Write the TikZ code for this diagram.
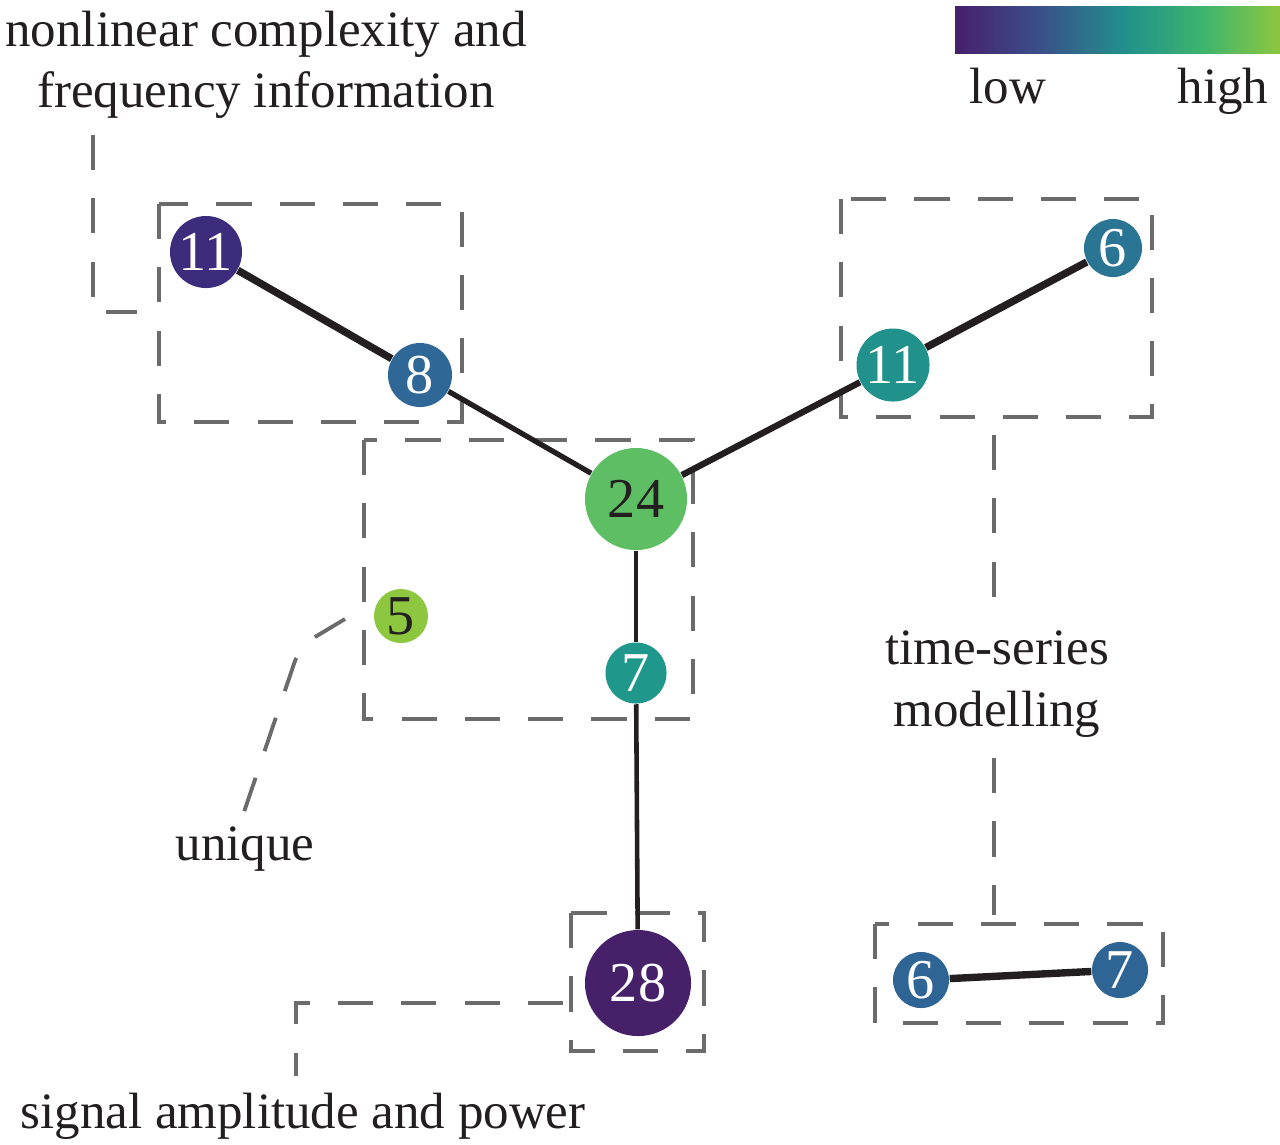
\documentclass[tikz,border=0pt]{standalone}
\usepackage{fontspec}
\setmainfont{Liberation Serif}
\usepackage{tikz}
\usetikzlibrary{calc,positioning}
\definecolor{ink}{HTML}{231F20}
\definecolor{dashgray}{HTML}{6B6B6B}
\definecolor{vir0}{HTML}{46206C}
\definecolor{vir1}{HTML}{3B4F8A}
\definecolor{vir2}{HTML}{21908C}
\definecolor{vir3}{HTML}{3DB46E}
\definecolor{vir4}{HTML}{8DC63F}
\definecolor{cA}{HTML}{3D2B7C}
\definecolor{cB}{HTML}{2F6896}
\definecolor{cC}{HTML}{5EBE64}
\definecolor{cD}{HTML}{21918C}
\definecolor{cE}{HTML}{2A7594}
\definecolor{cF}{HTML}{8DC63F}
\definecolor{cG}{HTML}{1F988B}
\definecolor{cH}{HTML}{46216A}
\definecolor{cI}{HTML}{2F6594}
\pgfdeclarehorizontalshading{viridisbar}{100bp}{color(0bp)=(vir0); color(25bp)=(vir0); color(38bp)=(vir1); color(51bp)=(vir2); color(63bp)=(vir3); color(75bp)=(vir4); color(100bp)=(vir4)}
\tikzset{
  feat/.style={circle,inner sep=0pt,font=\fontsize{16}{16}\selectfont,text=white},
  edge/.style={draw=ink},
  dbox/.style={draw=dashgray,line width=1.1pt,dash pattern=on 10pt off 8pt},
  lead/.style={draw=dashgray,line width=1.1pt,dash pattern=on 10pt off 8pt},
  lbl/.style={inner sep=0pt,text=ink,font=\fontsize{14.5}{17.5}\selectfont}
}
\begin{document}
\begin{tikzpicture}[x=0.01cm,y=-0.01cm]
\useasboundingbox (0,0) rectangle (1280,1144);
% colour bar
\shade[shading=viridisbar] (955,6) rectangle (1280,53);
\node[lbl,anchor=base] (low) at (1008,103) {low};
\node[lbl,anchor=base] (high) at (1223,103) {high};
% dashed groups
\draw[dbox] (159,204) rectangle (462,422);
\draw[dbox] (364,440) rectangle (693,719);
\draw[dbox] (841,199) rectangle (1152,417);
\draw[dbox] (571,913) rectangle (704,1051);
\draw[dbox] (875,924) rectangle (1163,1023);
% features
\node[feat,fill=cA,minimum size=0.72cm] (a11) at (206,252) {11};
\node[feat,fill=cB,minimum size=0.64cm] (b8) at (420,375) {8};
\node[feat,fill=cC,minimum size=1.02cm,text=ink] (c24) at (636,499) {24};
\node[feat,fill=cD,minimum size=0.73cm] (d11) at (893,365) {11};
\node[feat,fill=cE,minimum size=0.58cm] (e6) at (1113,248) {6};
\node[feat,fill=cF,minimum size=0.54cm,text=ink] (f5) at (401,616) {5};
\node[feat,fill=cG,minimum size=0.61cm] (g7) at (636,673) {7};
\node[feat,fill=cH,minimum size=1.06cm] (h28) at (638,983) {28};
\node[feat,fill=cI,minimum size=0.56cm] (i6) at (921,980) {6};
\node[feat,fill=cI,minimum size=0.56cm] (j7) at (1120,970) {7};
% links
\draw[edge,line width=2.1pt] (a11) -- (b8);
\draw[edge,line width=1.5pt] (b8) -- (c24);
\draw[edge,line width=1.8pt] (c24) -- (d11);
\draw[edge,line width=2.1pt] (d11) -- (e6);
\draw[edge,line width=1.3pt] (c24) -- (g7);
\draw[edge,line width=1.3pt] (g7) -- (h28);
\draw[edge,line width=2.1pt] (i6) -- (j7);
% labels
\node[lbl,anchor=north,align=center] (nlc) at (266,10) {nonlinear complexity and\\frequency information};
\node[lbl,anchor=base] (uniq) at (245,860) {unique};
\node[lbl,anchor=north,align=center] (tsm) at (997,630) {time-series\\modelling};
\node[lbl,anchor=base] (sap) at (303,1128) {signal amplitude and power};
% leaders
\coordinate (nlc1) at (93,135);
\coordinate (nlc2) at (137,312);
\draw[lead] (nlc1) |- (nlc2);
\coordinate (uq1) at (345,619);
\coordinate (uq2) at (300,646);
\coordinate (uq3) at (244,812);
\draw[lead,rounded corners=5pt] (uq1) -- (uq2) -- (uq3);
\coordinate (ts1) at (994,435);
\coordinate (ts2) at (994,597);
\coordinate (ts3) at (994,758);
\coordinate (ts4) at (994,915);
\draw[lead] (ts1) -- (ts2);
\draw[lead] (ts3) -- (ts4);
\coordinate (sp1) at (563,1003);
\coordinate (sp2) at (296,1076);
\draw[lead] (sp1) -| (sp2);
\end{tikzpicture}
\end{document}
